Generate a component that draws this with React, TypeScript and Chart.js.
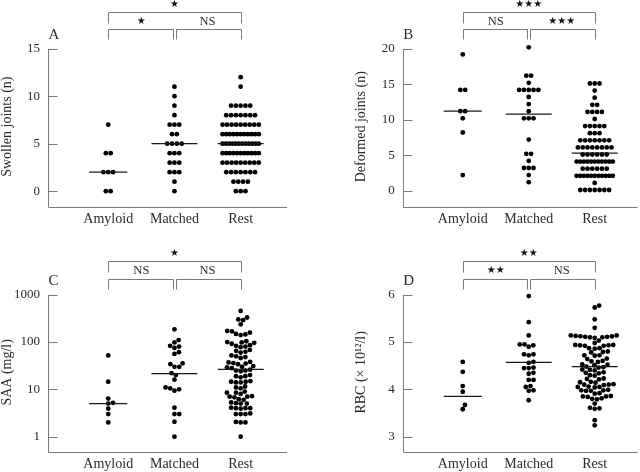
import React, { useEffect, useRef } from "react";
import { Chart, registerables } from "chart.js";
Chart.register(...registerables);

const categories = ["Amyloid", "Matched", "Rest"];

// Panel A: swollen joints (n)
const swollenTicks = [0, 5, 10, 15];
const swollenTickLabels = ["0", "5", "10", "15"];
const swollenAmyloid = [7, 4, 4, 2, 2, 2, 0, 0];
const swollenMatched = [11, 10, 9, 8, 7, 7, 7, 6, 6, 5, 5, 5, 5, 4, 4, 4, 3, 3, 3, 2, 2, 2, 1, 0];
const swollenRest = [
  12, 11,
  9, 9, 9, 9, 9,
  8, 8, 8, 8, 8, 8, 8,
  7, 7, 7, 7, 7, 7, 7, 7, 7,
  6, 6, 6, 6, 6, 6, 6, 6, 6, 6, 6,
  5, 5, 5, 5, 5, 5, 5, 5, 5, 5, 5, 5,
  4, 4, 4, 4, 4, 4, 4, 4, 4, 4, 4,
  3, 3, 3, 3, 3, 3, 3, 3, 3,
  2, 2, 2, 2, 2, 2, 2,
  1, 1, 1, 1,
  0, 0, 0,
];
const swollenMedians = [2, 5, 5];
const swollenSig = ["★", "★", "NS"];

// Panel B: deformed joints (n)
const deformedTicks = [0, 5, 10, 15, 20];
const deformedTickLabels = ["0", "5", "10", "15", "20"];
const deformedAmyloid = [19.2, 14.2, 14.2, 11.2, 11.2, 10.2, 8.2, 2.2];
const deformedMatched = [
  20.2, 16.2, 16.2, 15.2, 14.2, 14.2, 14.2, 14.2, 14.2, 13.2, 12.2, 11.2,
  10.2, 10.2, 10.2, 7.2, 5.2, 5.2, 4.2, 3.2, 3.2, 3.2, 2.2, 1.2,
];
const deformedRest = [
  15.1, 15.1, 15.1,
  14.1,
  13.1,
  12.1, 12.1,
  11.1, 11.1, 11.1, 11.1,
  10.1,
  9.1, 9.1, 9.1, 9.1, 9.1,
  8.1, 8.1, 8.1,
  7.1, 7.1, 7.1, 7.1, 7.1, 7.1, 7.1,
  6.1, 6.1, 6.1, 6.1, 6.1, 6.1, 6.1, 6.1,
  5.1, 5.1, 5.1, 5.1, 5.1, 5.1,
  4.1, 4.1, 4.1, 4.1, 4.1, 4.1, 4.1, 4.1, 4.1, 4.1, 4.1,
  3.1, 3.1, 3.1, 3.1, 3.1, 3.1,
  2.1, 2.1, 2.1, 2.1, 2.1, 2.1, 2.1, 2.1, 2.1, 2.1, 2.1,
  1.1,
  0.1, 0.1, 0.1, 0.1, 0.1, 0.1, 0.1,
];
const deformedMedians = [11.2, 10.8, 5.3];
const deformedSig = ["★★★", "NS", "★★★"];

// Panel C: SAA (mg/l), log scale
const saaTicks = [1, 10, 100, 1000];
const saaTickLabels = ["1", "10", "100", "1000"];
const saaAmyloid = [52, 14.5, 6.4, 5.2, 5.0, 3.9, 3.0, 2.0];
const saaMatched = [
  186, 110, 98, 83, 80, 75, 61, 56, 35.5, 34, 30, 30, 22, 20, 16, 11, 10.5, 10,
  9.4, 4.1, 3, 3, 2.07, 1,
];
const saaRest = [
  454,
  330, 300, 290,
  237,
  172, 168, 158,
  148, 145, 140,
  104, 100, 98, 96, 92,
  86, 83, 80, 78,
  68, 65, 62, 60,
  52, 50, 48, 46,
  38, 37, 36, 35, 34,
  31, 30, 29, 28,
  26, 25, 25, 24,
  20, 19, 19, 18,
  15, 14.5, 14.5, 14, 14,
  11.5, 11, 10.5,
  9, 8.5, 8.5, 8,
  7.2, 7, 7, 6.8,
  6.2, 6,
  5.3, 5.1, 5, 5,
  4.1, 4, 4, 4, 3.9,
  3.1, 3, 3, 3,
  2.05, 2, 2,
  1,
];
const saaMedians = [5, 21.5, 26.5];
const saaSig = ["★", "NS", "NS"];

// Panel D: RBC (x 10^12/l)
const rbcTicks = [3, 4, 5, 6];
const rbcTickLabels = ["3", "4", "5", "6"];
const rbcAmyloid = [4.58, 4.37, 4.07, 3.95, 3.67, 3.58];
const rbcMatched = [
  5.97, 5.42, 5.14, 4.95, 4.95, 4.93, 4.9, 4.74, 4.74, 4.72, 4.58, 4.56, 4.45,
  4.45, 4.46, 4.35, 4.33, 4.2, 4.2, 4.07, 4.05, 3.98, 3.97, 3.77,
];
const rbcRest = [
  5.77, 5.73, 5.48, 5.3,
  5.14, 5.14, 5.13, 5.12, 5.12, 5.11, 5.11, 5.1, 5.1, 5.09,
  5.03, 4.98,
  4.94, 4.94, 4.93, 4.93, 4.92, 4.92,
  4.87, 4.87, 4.86,
  4.8, 4.79, 4.78,
  4.72, 4.72, 4.71,
  4.65, 4.64,
  4.6, 4.59, 4.58,
  4.53, 4.52, 4.51,
  4.48, 4.47, 4.46,
  4.42, 4.41, 4.4,
  4.36, 4.35, 4.34,
  4.3, 4.29,
  4.23, 4.22, 4.21,
  4.16, 4.15, 4.14,
  4.11, 4.1, 4.1, 4.09,
  4.06, 4.05, 4.05, 4.04,
  3.99, 3.98, 3.98, 3.97, 3.97,
  3.92, 3.91,
  3.86, 3.85, 3.85, 3.84,
  3.81, 3.8, 3.79,
  3.7,
  3.61, 3.6, 3.59,
  3.35, 3.24,
];
const rbcMedians = [3.85, 4.57, 4.48];
const rbcSig = ["★★", "★★", "NS"];

// ---- styling ----
const SERIF = '"Liberation Serif", "Times New Roman", serif';
const STAR_FONT = '10px "DejaVu Sans"';
const GRAY = "#7a7a7a";
const TEXT = "#2a2a2a";
const DOT = 4.8; // dot spacing (px)
const ROW_MAX = 41; // max row width for integer dot rows (px)
const MEDIAN_HALF = [19, 23, 23]; // px

type Bracket = { outerY: number; outerLeg: number; innerY: number; innerLeg: number; outerLabelY: number; innerLabelY: number };
type Panel = {
  letter: string; title: string; log: boolean; yMin: number; yMax: number;
  ticks: number[]; tickLabels: string[]; groups: number[][]; medians: number[]; sig: string[];
  layout: "rows" | "swarm"; left: number; top: number;
  pad: { left: number; right: number; top: number; bottom: number };
  xMin: number; xMax: number; br: Bracket;
};

const brTop: Bracket = { outerY: 11.7, outerLeg: 22.7, innerY: 29.3, innerLeg: 39, outerLabelY: 4.5, innerLabelY: 21.5 };
const brBot: Bracket = { outerY: 25, outerLeg: 36, innerY: 42.7, innerLeg: 52.7, outerLabelY: 17, innerLabelY: 34.3 };

const panels: Panel[] = [
  {
    letter: "A", title: "Swollen joints (n)", log: false, yMin: -1.63, yMax: 15,
    ticks: swollenTicks, tickLabels: swollenTickLabels,
    groups: [swollenAmyloid, swollenMatched, swollenRest], medians: swollenMedians, sig: swollenSig,
    layout: "rows", left: 0, top: 0, pad: { left: 48, right: 33, top: 48.7, bottom: 29.3 },
    xMin: 0.09, xMax: 3.7, br: brTop,
  },
  {
    letter: "B", title: "Deformed joints (n)", log: false, yMin: -2.25, yMax: 20,
    ticks: deformedTicks, tickLabels: deformedTickLabels,
    groups: [deformedAmyloid, deformedMatched, deformedRest], medians: deformedMedians, sig: deformedSig,
    layout: "rows", left: 320, top: 0, pad: { left: 82.7, right: 2, top: 48.7, bottom: 29.3 },
    xMin: 0.09, xMax: 3.65, br: brTop,
  },
  {
    letter: "C", title: "SAA (mg/l)", log: true, yMin: 0.475, yMax: 1000,
    ticks: saaTicks, tickLabels: saaTickLabels,
    groups: [saaAmyloid, saaMatched, saaRest], medians: saaMedians, sig: saaSig,
    layout: "swarm", left: 0, top: 236, pad: { left: 48, right: 33, top: 58.7, bottom: 20 },
    xMin: 0.09, xMax: 3.7, br: brBot,
  },
  {
    letter: "D", title: "RBC (× 10¹²/l)", log: false, yMin: 2.677, yMax: 6,
    ticks: rbcTicks, tickLabels: rbcTickLabels,
    groups: [rbcAmyloid, rbcMatched, rbcRest], medians: rbcMedians, sig: rbcSig,
    layout: "swarm", left: 320, top: 236, pad: { left: 82.7, right: 2, top: 58.7, bottom: 20 },
    xMin: 0.09, xMax: 3.65, br: brBot,
  },
];

function rowOffsets(vals: number[]): number[] {
  const groups = new Map<string, number[]>();
  vals.forEach((v, i) => {
    const k = v.toFixed(3);
    if (!groups.has(k)) groups.set(k, []);
    groups.get(k)!.push(i);
  });
  const out = new Array(vals.length).fill(0);
  groups.forEach((idx) => {
    const n = idx.length;
    const s = n > 1 ? Math.min(DOT, (ROW_MAX - DOT) / (n - 1)) : 0;
    idx.forEach((i, k) => { out[i] = (k - (n - 1) / 2) * s; });
  });
  return out;
}

function swarmOffsets(py: number[]): number[] {
  const order = py.map((_, i) => i).sort((a, b) => py[b] - py[a]);
  const placed: { x: number; y: number }[] = [];
  const out = new Array(py.length).fill(0);
  const d2 = DOT * DOT;
  for (const i of order) {
    const y = py[i];
    const near = placed.filter((p) => Math.abs(p.y - y) < DOT);
    const cands = [0];
    for (const p of near) {
      const dx = Math.sqrt(d2 - (p.y - y) * (p.y - y));
      cands.push(p.x + dx, p.x - dx);
    }
    cands.sort((a, b) => Math.abs(a) - Math.abs(b));
    let chosen = 0;
    for (const c of cands) {
      if (near.every((p) => (p.x - c) ** 2 + (p.y - y) ** 2 >= d2 - 1e-6)) { chosen = c; break; }
    }
    out[i] = chosen;
    placed.push({ x: chosen, y });
  }
  return out;
}

function PanelChart({ p }: { p: Panel }) {
  const ref = useRef<HTMLCanvasElement>(null);
  useEffect(() => {
    const canvas = ref.current!;
    const decor = {
      id: "decor",
      beforeDatasetsDraw(chart: any) {
        const ctx = chart.ctx as CanvasRenderingContext2D;
        const a = chart.chartArea;
        const xs = chart.scales.x;
        const ys = chart.scales.y;
        ctx.save();
        ctx.strokeStyle = GRAY;
        ctx.lineWidth = 1;
        ctx.beginPath();
        const ax = Math.round(a.left) + 0.5;
        const ay = Math.round(a.bottom) + 0.5;
        ctx.moveTo(ax, Math.round(a.top));
        ctx.lineTo(ax, ay);
        ctx.lineTo(a.right, ay);
        p.ticks.forEach((t) => {
          const y = Math.round(ys.getPixelForValue(t)) + 0.5;
          ctx.moveTo(ax, y);
          ctx.lineTo(ax + 9, y);
        });
        ctx.stroke();

        ctx.fillStyle = TEXT;
        ctx.font = `13px ${SERIF}`;
        ctx.textAlign = "right";
        ctx.textBaseline = "middle";
        p.ticks.forEach((t, i) => {
          ctx.fillText(p.tickLabels[i], a.left - 8, ys.getPixelForValue(t));
        });

        ctx.font = `14px ${SERIF}`;
        ctx.textAlign = "center";
        categories.forEach((c, i) => {
          ctx.fillText(c, xs.getPixelForValue(i + 1), a.bottom + 12.5);
        });

        ctx.save();
        ctx.translate(a.left - 41, (a.top + a.bottom) / 2 - 1);
        ctx.rotate(-Math.PI / 2);
        ctx.fillText(p.title, 0, 0);
        ctx.restore();

        ctx.textAlign = "left";
        ctx.textBaseline = "alphabetic";
        ctx.font = `15px ${SERIF}`;
        ctx.fillText(p.letter, a.left + 0.5, a.top - 9.5);

        // significance brackets
        const c = [1, 2, 3].map((v) => xs.getPixelForValue(v));
        const b = p.br;
        ctx.strokeStyle = GRAY;
        ctx.beginPath();
        const X = (v: number) => Math.round(v) + 0.5;
        const Y = (v: number) => Math.round(v) + 0.5;
        ctx.moveTo(X(c[0]), Y(b.outerLeg)); ctx.lineTo(X(c[0]), Y(b.outerY));
        ctx.lineTo(X(c[2]), Y(b.outerY)); ctx.lineTo(X(c[2]), Y(b.outerLeg));
        ctx.moveTo(X(c[0]), Y(b.innerLeg)); ctx.lineTo(X(c[0]), Y(b.innerY));
        ctx.lineTo(X(c[1] - 1.7), Y(b.innerY)); ctx.lineTo(X(c[1] - 1.7), Y(b.innerLeg));
        ctx.moveTo(X(c[1] + 1.7), Y(b.innerLeg)); ctx.lineTo(X(c[1] + 1.7), Y(b.innerY));
        ctx.lineTo(X(c[2]), Y(b.innerY)); ctx.lineTo(X(c[2]), Y(b.innerLeg));
        ctx.stroke();

        const label = (s: string, x: number, y: number) => {
          ctx.textAlign = "center";
          ctx.textBaseline = "middle";
          if (s.indexOf("★") >= 0) { ctx.font = STAR_FONT; ctx.fillStyle = "#111"; }
          else { ctx.font = `12.5px ${SERIF}`; ctx.fillStyle = TEXT; }
          ctx.fillText(s, x, y);
        };
        label(p.sig[0], (c[0] + c[2]) / 2, b.outerLabelY);
        label(p.sig[1], (c[0] + c[1]) / 2, b.innerLabelY);
        label(p.sig[2], (c[1] + c[2]) / 2, b.innerLabelY);
        ctx.restore();
      },
    };

    const chart = new Chart(canvas, {
      type: "scatter",
      data: {
        datasets: [
          ...p.medians.map((m, i) => ({
            type: "line" as const,
            data: [{ x: i + 1 - 0.3, y: m }, { x: i + 1 + 0.3, y: m }],
            borderColor: "#1a1a1a",
            borderWidth: 1.2,
            pointRadius: 0,
            fill: false,
            showLine: true,
            clip: false,
          })),
          ...p.groups.map((g, i) => ({
            type: "scatter" as const,
            data: g.map((v) => ({ x: i + 1, y: v })),
            backgroundColor: "#000",
            borderWidth: 0,
            pointRadius: 2.4,
            pointHoverRadius: 2.4,
            clip: false,
          })),
        ],
      },
      options: {
        animation: false,
        responsive: false,
        events: [],
        layout: { padding: p.pad },
        plugins: { legend: { display: false }, tooltip: { enabled: false } },
        scales: {
          x: { type: "linear", display: false, min: p.xMin, max: p.xMax },
          y: { type: p.log ? "logarithmic" : "linear", display: false, min: p.yMin, max: p.yMax },
        },
      } as any,
      plugins: [decor],
    });

    const xs: any = chart.scales.x;
    const ys: any = chart.scales.y;
    p.groups.forEach((g, i) => {
      const cx = xs.getPixelForValue(i + 1);
      const py = g.map((v) => ys.getPixelForValue(v));
      const off = p.layout === "rows" ? rowOffsets(g) : swarmOffsets(py);
      chart.data.datasets[3 + i].data = g.map((v, k) => ({ x: xs.getValueForPixel(cx + off[k]), y: v })) as any;
      const hw = MEDIAN_HALF[i];
      chart.data.datasets[i].data = [
        { x: xs.getValueForPixel(cx - hw), y: p.medians[i] },
        { x: xs.getValueForPixel(cx + hw), y: p.medians[i] },
      ] as any;
    });
    chart.update("none");
    return () => chart.destroy();
  }, []);
  return (
    <canvas
      ref={ref}
      width={320}
      height={236}
      style={{ position: "absolute", left: p.left, top: p.top, width: 320, height: 236 }}
    />
  );
}

export default function App() {
  return (
    <div style={{ position: "absolute", left: 0, top: 0, width: 640, height: 472, background: "#fff", overflow: "hidden" }}>
      {panels.map((p) => (
        <PanelChart key={p.letter} p={p} />
      ))}
    </div>
  );
}
